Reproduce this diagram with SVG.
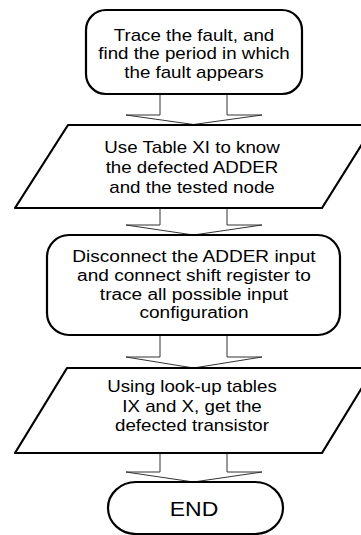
<svg xmlns="http://www.w3.org/2000/svg" width="361" height="535" viewBox="0 0 361 535">
<style>
.node{fill:#fff;stroke:#000;stroke-width:2.2;stroke-linejoin:round}
.arr{fill:#fff;stroke:#333;stroke-width:1}
.t{font-family:"Liberation Sans",Arial,sans-serif;font-size:16px;fill:#000;text-anchor:middle}
</style>
<rect width="361" height="535" fill="#fff"/>
<g id="connectors">
<polygon class="arr" points="160,94 160,115 126,115 193.5,124.5 262,115 227,115 227,94"/>
<polygon class="arr" points="160,208 160,225 126,225 193.5,235 262,225 227,225 227,208"/>
<polygon class="arr" points="160,335 160,357 126,357 193.5,368 262,357 227,357 227,335"/>
<polygon class="arr" points="160,453 160,472 126,472 193.5,482 262,472 227,472 227,453"/>
</g>
<g id="n1">
<rect class="node" x="86" y="10" width="216" height="84" rx="20"/>
<g transform="translate(194,0) scale(1.17,1)">
<text class="t" x="0" y="41">Trace the fault, and</text>
<text class="t" x="0" y="59.5">find the period in which</text>
<text class="t" x="0" y="78">the fault appears</text>
</g>
</g>
<g id="n2">
<polygon class="node" points="68,125 374,125 322,208 15,208"/>
<g transform="translate(192,0) scale(1.17,1)">
<text class="t" x="0" y="153">Use Table XI to know</text>
<text class="t" x="0" y="173">the defected ADDER</text>
<text class="t" x="0" y="193">and the tested node</text>
</g>
</g>
<g id="n3">
<rect class="node" x="47" y="235" width="293" height="100" rx="22"/>
<g transform="translate(194,0) scale(1.19,1)">
<text class="t" x="0" y="262">Disconnect the ADDER input</text>
<text class="t" x="0" y="281">and connect shift register to</text>
<text class="t" x="0" y="300">trace all possible input</text>
<text class="t" x="0" y="318">configuration</text>
</g>
</g>
<g id="n4">
<polygon class="node" points="67,368 374,368 322,453 15,453"/>
<g transform="translate(192,0) scale(1.17,1)">
<text class="t" x="0" y="392">Using look-up tables</text>
<text class="t" x="0" y="412">IX and X, get the</text>
<text class="t" x="0" y="431">defected transistor</text>
</g>
</g>
<g id="n5">
<rect class="node" x="108" y="482" width="175" height="52" rx="28" ry="26"/>
<g transform="translate(194,0) scale(1.15,1)">
<text class="t" x="0" y="516" style="font-size:20px">END</text>
</g>
</g>
</svg>
